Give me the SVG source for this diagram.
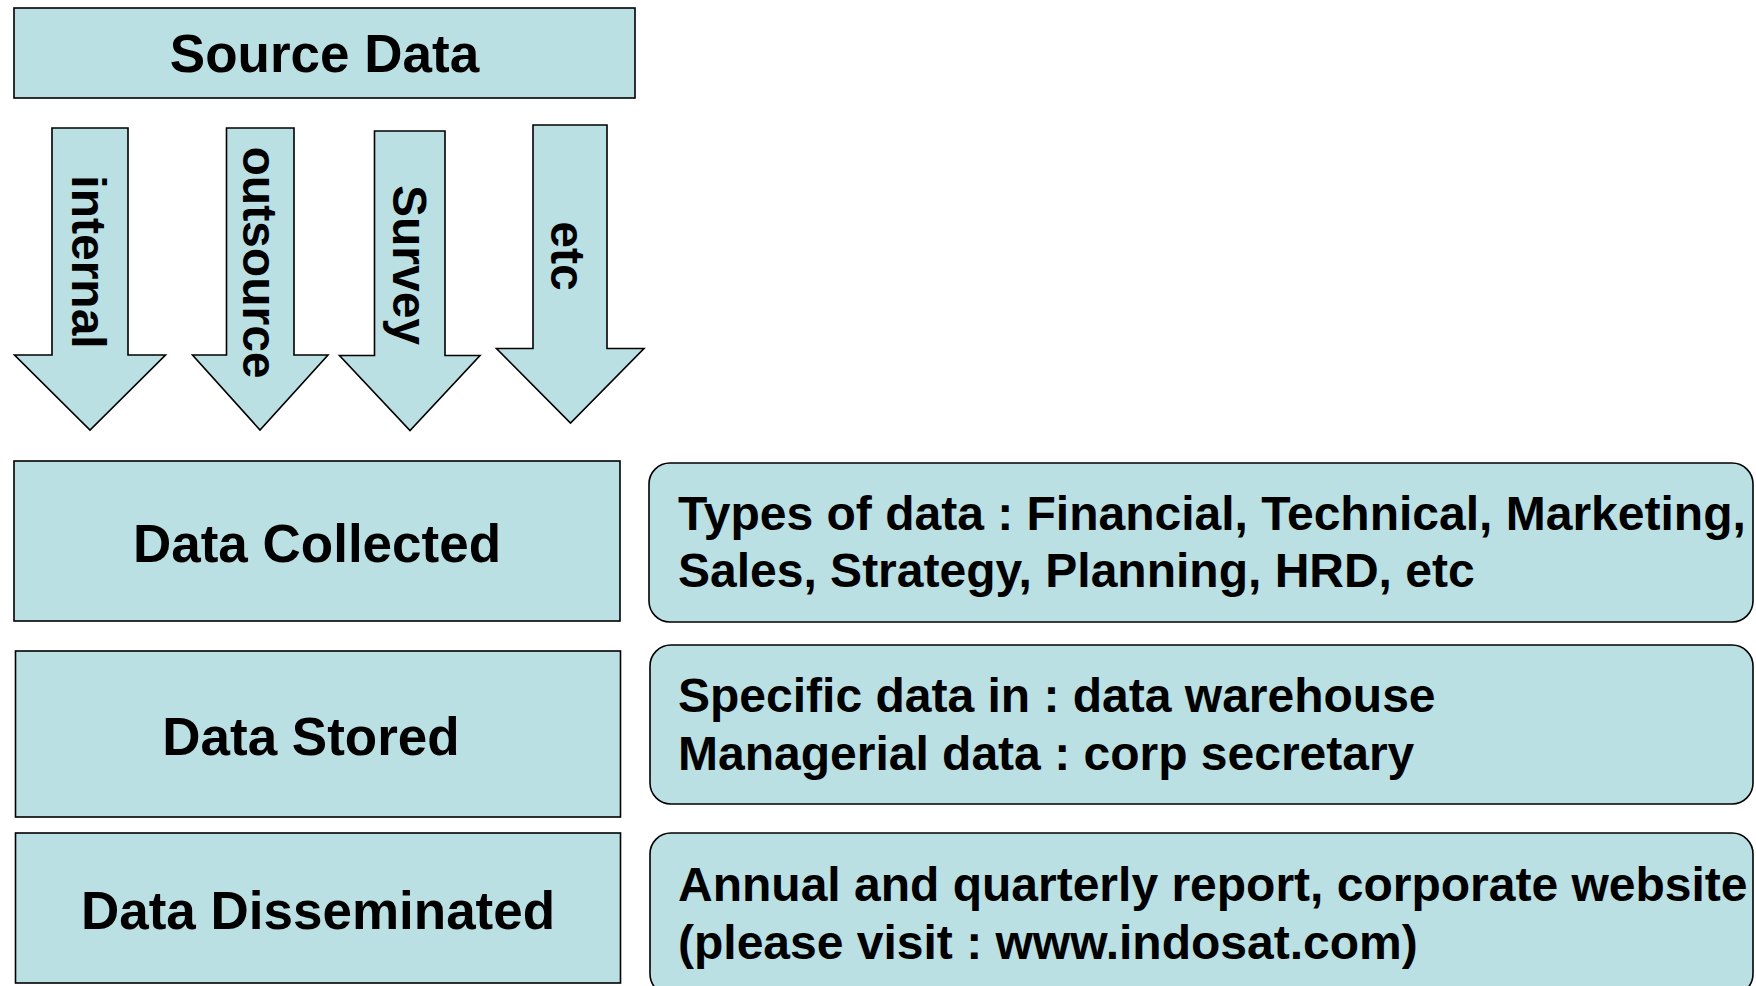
<svg xmlns="http://www.w3.org/2000/svg" width="1756" height="986" viewBox="0 0 1756 986">
<style>
.box{fill:#BBE0E3;stroke:#000;stroke-width:1.6}
.t{font-family:"Liberation Sans",Arial,sans-serif;font-weight:bold;fill:#000}
.big{font-size:53px;text-anchor:middle}
.arr{font-size:48px;text-anchor:middle}
.info{font-size:48px}
</style>
<rect width="1756" height="986" fill="#fff"/>
<g id="source-data">
<rect class="box" x="14" y="8" width="621" height="90"/>
<text class="t big" x="324.5" y="72">Source Data</text>
</g>
<g id="connectors">
<g id="arrow-internal">
<polygon class="box" points="52,128 128,128 128,355 165.5,355 90,430 14.5,355 52,355"/>
<text class="t arr" transform="translate(89,262) rotate(90)" y="17">internal</text>
</g>
<g id="arrow-outsource">
<polygon class="box" points="226.5,128 294,128 294,355 328,355 260,430 192.5,355 226.5,355"/>
<text class="t arr" transform="translate(260,262.5) rotate(90)" y="17">outsource</text>
</g>
<g id="arrow-survey">
<polygon class="box" points="374.5,131 445,131 445,355.5 480,355.5 410,430.5 339.5,355.5 374.5,355.5"/>
<text class="t arr" transform="translate(409.5,265) rotate(90)" y="17">Survey</text>
</g>
<g id="arrow-etc">
<polygon class="box" points="533,125 607,125 607,348.5 644,348.5 570.5,423 496.5,348.5 533,348.5"/>
<text class="t arr" transform="translate(568,256) rotate(90)" y="17">etc</text>
</g>
</g>
<g id="data-collected">
<rect class="box" x="14" y="461" width="606" height="160"/>
<text class="t big" x="317" y="562">Data Collected</text>
</g>
<g id="data-stored">
<rect class="box" x="15.5" y="651" width="605" height="166"/>
<text class="t big" x="311" y="755">Data Stored</text>
</g>
<g id="data-disseminated">
<rect class="box" x="15.5" y="833" width="605" height="150"/>
<text class="t big" x="318" y="929">Data Disseminated</text>
</g>
<g id="types-of-data">
<rect class="box" x="649" y="463" width="1104" height="159" rx="21" ry="21"/>
<text class="t info" x="678" y="530">Types of data : Financial, Technical, Marketing,</text>
<text class="t info" x="678" y="587">Sales, Strategy, Planning, HRD, etc</text>
</g>
<g id="storage-info">
<rect class="box" x="650" y="645" width="1103" height="159" rx="21" ry="21"/>
<text class="t info" x="678" y="712">Specific data in : data warehouse</text>
<text class="t info" x="678" y="770">Managerial data : corp secretary</text>
</g>
<g id="dissemination-info">
<rect class="box" x="650" y="833" width="1103" height="162" rx="21" ry="21"/>
<text class="t info" x="678" y="901">Annual and quarterly report, corporate website</text>
<text class="t info" x="678" y="959">(please visit : www.indosat.com)</text>
</g>
</svg>
